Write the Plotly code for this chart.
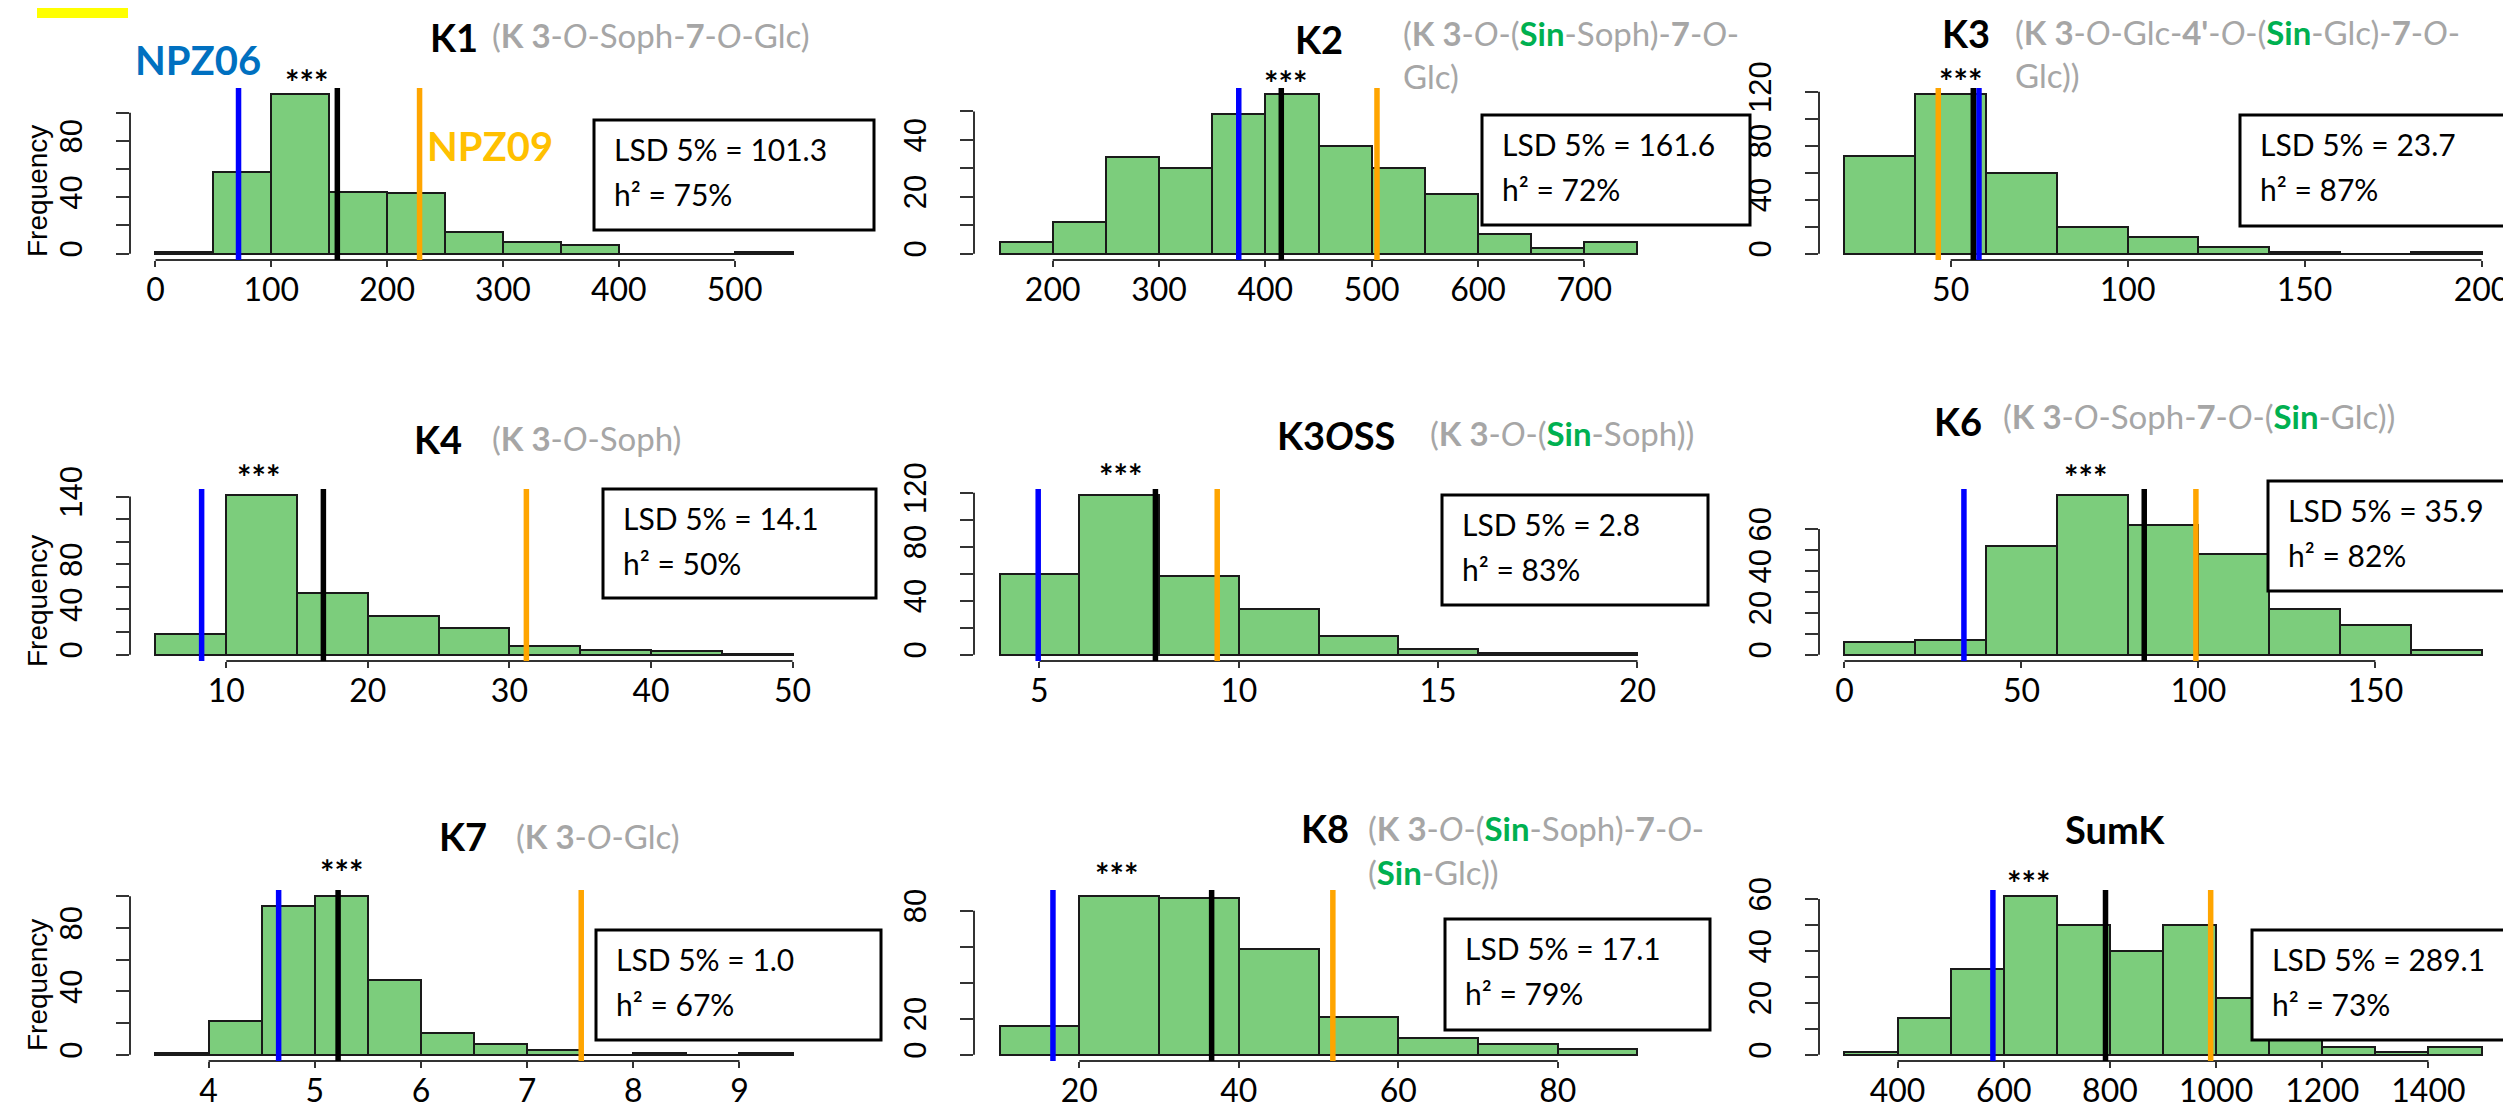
import plotly.graph_objects as go

W, H = 2511, 1109

# ------------------------------------------------------------------ data
K1_EDGES = [0, 50, 100, 150, 200, 250, 300, 350, 400, 450, 500]
K1_COUNTS = [1, 58, 113, 44, 43, 15, 8, 6, 0, 0, 1]
K1_BIN = 50
K1_XTICKS = [0, 100, 200, 300, 400, 500]
K1_YTICKS = [0, 20, 40, 60, 80, 100]
K1_YLABELS = [0, 40, 80]
K1_LINES = [71.7, 157, 228]          # NPZ06, population mean, NPZ09
K1_STARS = 130
K1_STATS = ["LSD 5% = 101.3", "h² = 75%"]

K2_EDGES = [150, 200, 250, 300, 350, 400, 450, 500, 550, 600, 650, 700]
K2_COUNTS = [4, 11, 34, 30, 49, 56, 38, 30, 21, 7, 2, 4]
K2_BIN = 50
K2_XTICKS = [200, 300, 400, 500, 600, 700]
K2_YTICKS = [0, 10, 20, 30, 40, 50]
K2_YLABELS = [0, 20, 40]
K2_LINES = [375, 415, 505]
K2_STARS = 419
K2_STATS = ["LSD 5% = 161.6", "h² = 72%"]

K3_EDGES = [20, 40, 60, 80, 100, 120, 140, 160, 180]
K3_COUNTS = [72, 118, 60, 20, 12, 5, 1, 0, 1]
K3_BIN = 20
K3_XTICKS = [50, 100, 150, 200]
K3_YTICKS = [0, 20, 40, 60, 80, 100, 120]
K3_YLABELS = [0, 40, 80, 120]
K3_LINES = [58, 56.4, 46.5]
K3_STARS = 52.8
K3_STATS = ["LSD 5% = 23.7", "h² = 87%"]

K4_EDGES = [5, 10, 15, 20, 25, 30, 35, 40, 45]
K4_COUNTS = [18, 141, 55, 34, 24, 8, 4, 3, 1]
K4_BIN = 5
K4_XTICKS = [10, 20, 30, 40, 50]
K4_YTICKS = [0, 20, 40, 60, 80, 100, 120, 140]
K4_YLABELS = [0, 40, 80, 140]
K4_LINES = [8.26, 16.86, 31.2]
K4_STARS = 12.3
K4_STATS = ["LSD 5% = 14.1", "h² = 50%"]

K3OSS_EDGES = [4, 6, 8, 10, 12, 14, 16, 18]
K3OSS_COUNTS = [60, 118, 58, 34, 14, 4, 1, 1]
K3OSS_BIN = 2
K3OSS_XTICKS = [5, 10, 15, 20]
K3OSS_YTICKS = [0, 20, 40, 60, 80, 100, 120]
K3OSS_YLABELS = [0, 40, 80, 120]
K3OSS_LINES = [4.97, 7.91, 9.46]
K3OSS_STARS = 7.03
K3OSS_STATS = ["LSD 5% = 2.8", "h² = 83%"]

K6_EDGES = [0, 20, 40, 60, 80, 100, 120, 140, 160]
K6_COUNTS = [6, 7, 52, 76, 62, 48, 22, 14, 2]
K6_BIN = 20
K6_XTICKS = [0, 50, 100, 150]
K6_YTICKS = [0, 10, 20, 30, 40, 50, 60]
K6_YLABELS = [0, 20, 40, 60]
K6_LINES = [33.75, 84.7, 99.3]
K6_STARS = 68
K6_STATS = ["LSD 5% = 35.9", "h² = 82%"]

K7_EDGES = [3.5, 4.0, 4.5, 5.0, 5.5, 6.0, 6.5, 7.0, 7.5, 8.0, 8.5, 9.0]
K7_COUNTS = [1, 21, 94, 100, 47, 14, 7, 3, 0, 1, 0, 1]
K7_BIN = 0.5
K7_XTICKS = [4, 5, 6, 7, 8, 9]
K7_YTICKS = [0, 20, 40, 60, 80, 100]
K7_YLABELS = [0, 40, 80]
K7_LINES = [4.66, 5.22, 7.51]
K7_STARS = 5.25
K7_STATS = ["LSD 5% = 1.0", "h² = 67%"]

K8_EDGES = [10, 20, 30, 40, 50, 60, 70, 80]
K8_COUNTS = [16, 88, 87, 59, 21, 9, 6, 3]
K8_BIN = 10
K8_XTICKS = [20, 40, 60, 80]
K8_YTICKS = [0, 20, 40, 60, 80]
K8_YLABELS = [0, 20, 80]
K8_LINES = [16.7, 36.6, 51.8]
K8_STARS = 24.7
K8_STATS = ["LSD 5% = 17.1", "h² = 79%"]

SUMK_EDGES = [300, 400, 500, 600, 700, 800, 900, 1000, 1100, 1200, 1300, 1400]
SUMK_COUNTS = [1, 14, 33, 61, 50, 40, 50, 22, 9, 3, 1, 3]
SUMK_BIN = 100
SUMK_XTICKS = [400, 600, 800, 1000, 1200, 1400]
SUMK_YTICKS = [0, 10, 20, 30, 40, 50, 60]
SUMK_YLABELS = [0, 20, 40, 60]
SUMK_LINES = [579.6, 791.7, 989.8]
SUMK_STARS = 647
SUMK_STATS = ["LSD 5% = 289.1", "h² = 73%"]

GRAY = "#A6A6A6"
SIN = '<b><span style="color:#00B050">Sin</span></b>'
TITLES = [
    ("<b>K1</b>", ["(<b>K 3</b>-<i>O</i>-Soph-<b>7</b>-<i>O</i>-Glc)"]),
    ("<b>K2</b>", ["(<b>K 3</b>-<i>O</i>-(" + SIN + "-Soph)-<b>7</b>-<i>O</i>-", "Glc)"]),
    ("<b>K3</b>", ["(<b>K 3</b>-<i>O</i>-Glc-<b>4'</b>-<i>O</i>-(" + SIN + "-Glc)-<b>7</b>-<i>O</i>-", "Glc))"]),
    ("<b>K4</b>", ["(<b>K 3</b>-<i>O</i>-Soph)"]),
    ("<b>K3<i>O</i>SS</b>", ["(<b>K 3</b>-<i>O</i>-(" + SIN + "-Soph))"]),
    ("<b>K6</b>", ["(<b>K 3</b>-<i>O</i>-Soph-<b>7</b>-<i>O</i>-(" + SIN + "-Glc))"]),
    ("<b>K7</b>", ["(<b>K 3</b>-<i>O</i>-Glc)"]),
    ("<b>K8</b>", ["(<b>K 3</b>-<i>O</i>-(" + SIN + "-Soph)-<b>7</b>-<i>O</i>-", "(" + SIN + "-Glc))"]),
    ("<b>SumK</b>", []),
]

PANELS = [
    (K1_EDGES, K1_COUNTS, K1_BIN, K1_XTICKS, K1_YTICKS, K1_YLABELS, K1_LINES, K1_STARS, K1_STATS),
    (K2_EDGES, K2_COUNTS, K2_BIN, K2_XTICKS, K2_YTICKS, K2_YLABELS, K2_LINES, K2_STARS, K2_STATS),
    (K3_EDGES, K3_COUNTS, K3_BIN, K3_XTICKS, K3_YTICKS, K3_YLABELS, K3_LINES, K3_STARS, K3_STATS),
    (K4_EDGES, K4_COUNTS, K4_BIN, K4_XTICKS, K4_YTICKS, K4_YLABELS, K4_LINES, K4_STARS, K4_STATS),
    (K3OSS_EDGES, K3OSS_COUNTS, K3OSS_BIN, K3OSS_XTICKS, K3OSS_YTICKS, K3OSS_YLABELS, K3OSS_LINES, K3OSS_STARS, K3OSS_STATS),
    (K6_EDGES, K6_COUNTS, K6_BIN, K6_XTICKS, K6_YTICKS, K6_YLABELS, K6_LINES, K6_STARS, K6_STATS),
    (K7_EDGES, K7_COUNTS, K7_BIN, K7_XTICKS, K7_YTICKS, K7_YLABELS, K7_LINES, K7_STARS, K7_STATS),
    (K8_EDGES, K8_COUNTS, K8_BIN, K8_XTICKS, K8_YTICKS, K8_YLABELS, K8_LINES, K8_STARS, K8_STATS),
    (SUMK_EDGES, SUMK_COUNTS, SUMK_BIN, SUMK_XTICKS, SUMK_YTICKS, SUMK_YLABELS, SUMK_LINES, SUMK_STARS, SUMK_STATS),
]

# ------------------------------------------------------------------ layout (pixels)
GRID_X = [(122, 810), (966, 1655), (1811, 2499)]
GRID_Y = [(80, 252), (481, 653), (882, 1053)]
# title: (name left x, name y, gray left x, [gray line ys])
TITLE_POS = [
    (420, 29, 482, [27]),
    (1285, 31, 1393, [25, 68]),
    (1932, 25, 2005, [24, 67]),
    (404, 431, 482, [430]),
    (1267, 427, 1420, [425]),
    (1924, 413, 1993, [408]),
    (429, 828, 506, [828]),
    (1291, 820, 1358, [820, 864]),
    (2055, 821, 0, []),
]
STAR_Y = [73, 74, 72, 468, 467, 468, 863, 866, 874]
BOXES = [
    (586, 112, 866, 222), (1474, 107, 1742, 217), (2232, 107, 2497, 218),
    (595, 481, 868, 590), (1434, 487, 1700, 597), (2260, 473, 2509, 583),
    (588, 922, 873, 1032), (1437, 911, 1702, 1022), (2244, 922, 2509, 1032),
]
LINE_COLORS = ["#0000FF", "#000000", "#FFA500"]
FREQ_Y = [183, 593, 977]


def px(x):
    return x / W


def py(y):
    return 1 - y / H


fig = go.Figure()
shapes = []
annotations = []
layout = {}

for i, (edges, counts, binw, xt, yt, ylab, vlines, stars, stats) in enumerate(PANELS):
    n = "" if i == 0 else str(i + 1)
    r, c = divmod(i, 3)
    x0, x1 = GRID_X[c]
    y0, y1 = GRID_Y[r]
    lo, hi = edges[0], edges[-1] + binw
    span = hi - lo
    ymax = max(counts)
    fig.add_trace(go.Bar(
        x=[e + binw / 2 for e in edges], y=counts, width=binw,
        xaxis="x" + n, yaxis="y" + n, showlegend=False, hoverinfo="skip",
        marker=dict(color="#7CCD7C", line=dict(color="#1A1A1A", width=2)),
    ))
    layout["xaxis" + n] = dict(
        domain=[px(x0), px(x1)], anchor="y" + n, automargin=False,
        range=[lo - 0.04 * span, hi + 0.04 * span],
        tickvals=xt, ticktext=[str(v) for v in xt],
        ticks="outside", ticklen=6, tickwidth=2, tickcolor="#333333",
        showline=False, showgrid=False, zeroline=False,
        tickfont=dict(family="Lato", size=32, color="black"),
        ticklabelstandoff=-4,
    )
    layout["yaxis" + n] = dict(
        domain=[py(y1), py(y0)], anchor="x" + n, automargin=False,
        range=[-0.04 * ymax, 1.04 * ymax],
        tickvals=yt, ticktext=[str(v) if v in ylab else "" for v in yt],
        ticks="outside", ticklen=13, tickwidth=2, tickcolor="#333333",
        showline=False, showgrid=False, zeroline=False, tickangle=-90,
        tickfont=dict(family="Liberation Sans", size=31, color="black"),
        ticklabelstandoff=22,
    )
    # R-style axis lines (first to last tick)
    shapes.append(dict(type="line", xref="x" + n, yref=f"y{n} domain",
                       x0=xt[0], x1=xt[-1], y0=0, y1=0,
                       line=dict(color="#333333", width=2)))
    shapes.append(dict(type="line", xref=f"x{n} domain", yref="y" + n,
                       x0=0, x1=0, y0=yt[0], y1=yt[-1],
                       line=dict(color="#333333", width=2)))
    # vertical reference lines
    for v, col in zip(vlines, LINE_COLORS):
        shapes.append(dict(type="line", xref="x" + n, yref=f"y{n} domain",
                           x0=v, x1=v, y0=0, y1=1,
                           line=dict(color=col, width=5.5)))
    # stars
    annotations.append(dict(text="<b>***</b>", x=stars, xref="x" + n,
                            y=py(STAR_Y[i]), yref="paper",
                            showarrow=False, xanchor="center", yanchor="middle",
                            font=dict(family="Lato", size=34, color="black")))
    # titles
    name, grays = TITLES[i]
    nx, ny, gx, gys = TITLE_POS[i]
    annotations.append(dict(text=name, x=px(nx), y=py(ny), xref="paper", yref="paper",
                            showarrow=False, xanchor="left", yanchor="middle",
                            font=dict(family="Lato", size=38, color="black")))
    for gtxt, gyy in zip(grays, gys):
        annotations.append(dict(text=gtxt, x=px(gx), y=py(gyy), xref="paper", yref="paper",
                                showarrow=False, xanchor="left", yanchor="middle",
                                font=dict(family="Lato", size=33, color=GRAY)))
    # LSD box
    bl, bt, br, bb = BOXES[i]
    shapes.append(dict(type="rect", xref="paper", yref="paper",
                       x0=px(bl), x1=px(br), y0=py(bb), y1=py(bt),
                       line=dict(color="black", width=3), fillcolor="white"))
    for k, s in enumerate(stats):
        annotations.append(dict(text=s, x=px(bl + 18), y=py(bt + 29 + 45 * k),
                                xref="paper", yref="paper", showarrow=False,
                                xanchor="left", yanchor="middle",
                                font=dict(family="Lato", size=30, color="black")))

for fy in FREQ_Y:
    annotations.append(dict(text="Frequency", x=px(29), y=py(fy), xref="paper", yref="paper",
                            showarrow=False, textangle=-90, xanchor="center", yanchor="middle",
                            font=dict(family="Liberation Sans", size=28, color="black")))

annotations.append(dict(text="<b>NPZ06</b>", x=px(190), y=py(52), xref="paper", yref="paper",
                        showarrow=False, xanchor="center", yanchor="middle",
                        font=dict(family="Lato", size=40, color="#0070C0")))
annotations.append(dict(text="<b>NPZ09</b>", x=px(482), y=py(138), xref="paper", yref="paper",
                        showarrow=False, xanchor="center", yanchor="middle",
                        font=dict(family="Lato", size=40, color="#FFC000")))

shapes.append(dict(type="rect", xref="paper", yref="paper",
                   x0=px(29), x1=px(120), y0=py(10), y1=py(0),
                   line=dict(width=0), fillcolor="#FFFF00"))

fig.update_layout(
    width=W, height=H, autosize=False, template="none",
    margin=dict(l=0, r=0, t=0, b=0, autoexpand=False),
    paper_bgcolor="white", plot_bgcolor="white",
    bargap=0, shapes=shapes, annotations=annotations,
    **layout,
)

fig.write_html("out.html")
